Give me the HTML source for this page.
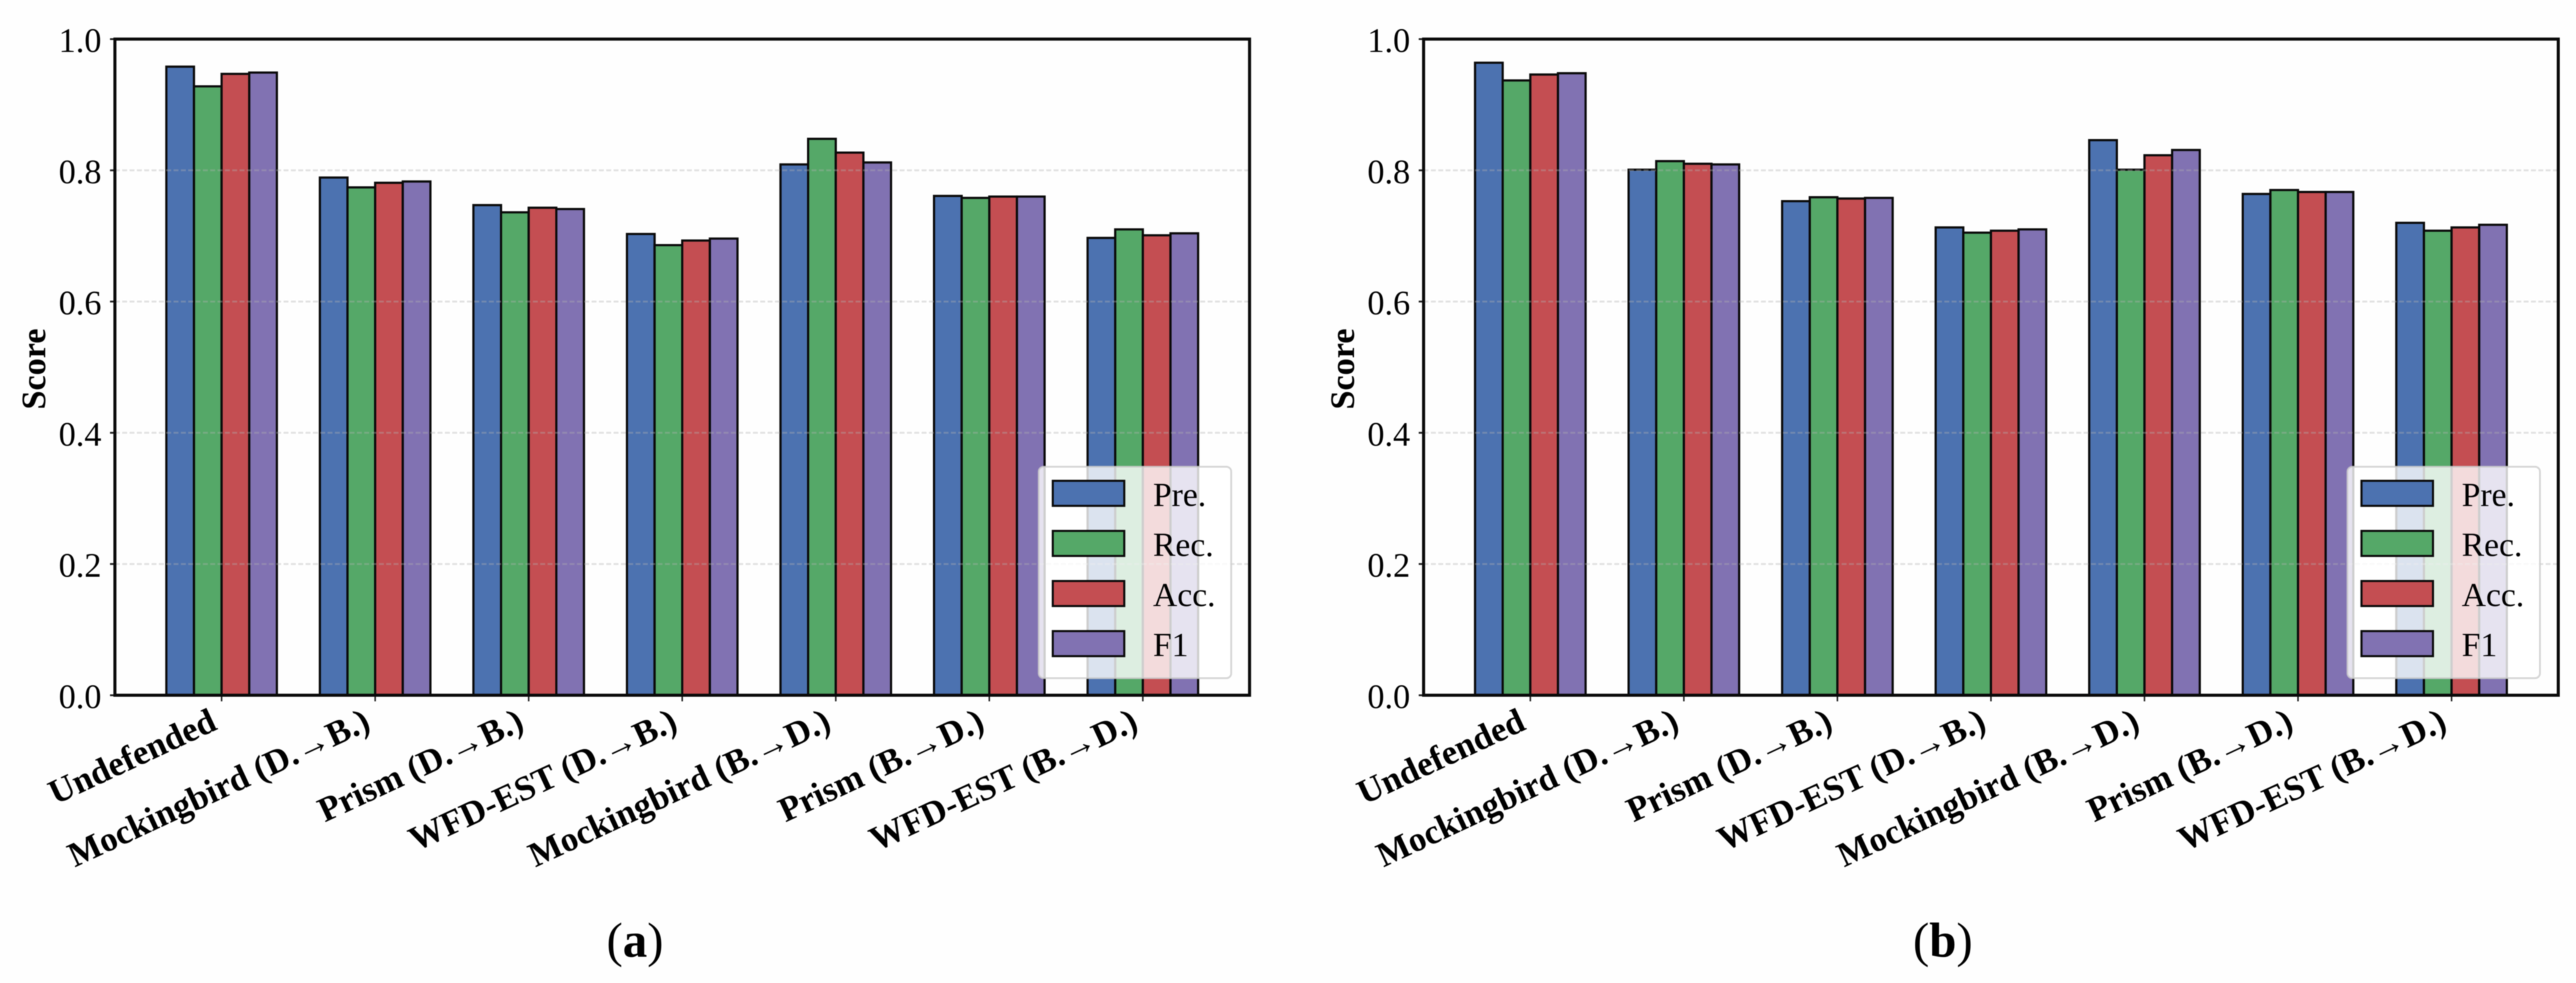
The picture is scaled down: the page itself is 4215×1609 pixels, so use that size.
<!DOCTYPE html>
<html lang="en">
<head>
<meta charset="utf-8">
<title>Score comparison charts</title>
<style>
html,body{margin:0;padding:0;background:#fff;width:4215px;height:1609px;overflow:hidden}
svg{display:block;filter:blur(0.7px)}
text{font-family:"Liberation Serif","Times New Roman",serif;fill:#000}
</style>
</head>
<body>
<svg id="figure" xmlns="http://www.w3.org/2000/svg" width="4215" height="1609" viewBox="0 0 4215 1609">
  <rect x="0" y="0" width="4215" height="1609" fill="#fefefe"></rect>
</svg>
<script>
const categories = ['Undefended', 'Mockingbird (D.\u2192B.)', 'Prism (D.\u2192B.)', 'WFD-EST (D.\u2192B.)', 'Mockingbird (B.\u2192D.)', 'Prism (B.\u2192D.)', 'WFD-EST (B.\u2192D.)'];
const seriesNames = ['Pre.', 'Rec.', 'Acc.', 'F1'];
const yTicks = [0, 0.2, 0.4, 0.6, 0.8, 1];
const yTickLabels = ['0.0', '0.2', '0.4', '0.6', '0.8', '1.0'];
const gridValues = [0.2, 0.4, 0.6, 0.8];

const panelAPre = [0.958, 0.789, 0.747, 0.703, 0.809, 0.761, 0.697];
const panelARec = [0.928, 0.774, 0.736, 0.686, 0.848, 0.758, 0.710];
const panelAAcc = [0.947, 0.781, 0.743, 0.693, 0.827, 0.760, 0.701];
const panelAF1 = [0.949, 0.783, 0.741, 0.696, 0.812, 0.760, 0.704];

const panelBPre = [0.964, 0.801, 0.753, 0.713, 0.846, 0.764, 0.720];
const panelBRec = [0.937, 0.814, 0.759, 0.705, 0.801, 0.770, 0.708];
const panelBAcc = [0.946, 0.810, 0.757, 0.708, 0.823, 0.767, 0.713];
const panelBF1 = [0.948, 0.809, 0.758, 0.710, 0.831, 0.767, 0.717];

const seriesColors = ['#4C72B0', '#55A868', '#C44E52', '#8172B2'];
const barWidth = 0.18;
const xMin = -0.695;
const xMax = 6.695;
const plotTop = 64;
const plotBottom = 1138;

const NS = 'http://www.w3.org/2000/svg';
const figure = document.getElementById('figure');

function make(parent, tag, attrs, content) {
  const node = document.createElementNS(NS, tag);
  for (const key in attrs) node.setAttribute(key, attrs[key]);
  if (content !== undefined) node.textContent = content;
  parent.appendChild(node);
  return node;
}

function slug(s) {
  return s.toLowerCase().replace(/\u2192/g, '-to-').replace(/[^a-z0-9]+/g, '-').replace(/^-|-$/g, '');
}

function drawPanel(id, left, right, series, captionLetter, captionX) {
  const xScale = v => left + (v - xMin) / (xMax - xMin) * (right - left);
  const yScale = v => plotBottom - v * (plotBottom - plotTop);

  const panel = make(figure, 'g', {});
  
  

  // bars
  series.forEach((values, s) => {
    values.forEach((value, c) => {
      const x0 = xScale(c + (s - 2) * barWidth);
      const x1 = xScale(c + (s - 1) * barWidth);
      const bar = make(panel, 'rect', {
        x: x0, y: yScale(value), width: x1 - x0, height: yScale(0) - yScale(value),
        fill: seriesColors[s], stroke: '#0a0a0a', 'stroke-width': 3.6
      });
      
      
    });
  });

  // grid lines
  gridValues.forEach(value => {
    const grid = make(panel, 'line', {
      x1: left, x2: right, y1: yScale(value), y2: yScale(value),
      stroke: '#b0b0b0', 'stroke-opacity': 0.38, 'stroke-width': 3, 'stroke-dasharray': '8 4'
    });
    
    
  });

  // y axis ticks and labels
  yTicks.forEach((value, i) => {
    const tick = make(panel, 'line', {
      x1: left - 8, x2: left, y1: yScale(value), y2: yScale(value), stroke: '#222', 'stroke-width': 3
    });
    
    
    const label = make(panel, 'text', {
      x: left - 22, y: yScale(value) + 21, 'text-anchor': 'end', 'font-size': 56
    }, yTickLabels[i]);
    
    
  });

  // x axis ticks and labels
  categories.forEach((name, c) => {
    const tx = xScale(c);
    const tick = make(panel, 'line', {
      x1: tx, x2: tx, y1: plotBottom, y2: plotBottom + 10, stroke: '#222', 'stroke-width': 2.5
    });
    
    
    const ax = tx - 5;
    const ay = 1193;
    const label = make(panel, 'text', {
      x: ax, y: ay, 'text-anchor': 'end', 'font-size': 57, 'font-weight': 'bold',
      transform: 'rotate(-25 ' + ax + ' ' + ay + ')'
    }, name);
    
    
  });

  // axis frame
  const frame = make(panel, 'rect', {
    x: left, y: plotTop, width: right - left, height: plotBottom - plotTop,
    fill: 'none', stroke: '#0a0a0a', 'stroke-width': 5
  });
  
  

  // y axis title
  const titleX = left - 114;
  const titleY = 604;
  const title = make(panel, 'text', {
    x: titleX, y: titleY, 'text-anchor': 'middle', 'font-size': 56, 'font-weight': 'bold',
    transform: 'rotate(-90 ' + titleX + ' ' + titleY + ')'
  }, 'Score');
  
  

  // legend
  const legendX = right - 345;
  const legend = make(panel, 'g', {});
  
  
  const legendBox = make(legend, 'rect', {
    x: legendX, y: 764, width: 315, height: 346, rx: 8, ry: 8,
    fill: '#fff', 'fill-opacity': 0.8, stroke: '#ccc', 'stroke-opacity': 0.8, 'stroke-width': 3
  });
  
  
  seriesNames.forEach((name, s) => {
    const sy = 787 + s * 82;
    const swatch = make(legend, 'rect', {
      x: legendX + 23, y: sy, width: 117, height: 41,
      fill: seriesColors[s], stroke: '#0a0a0a', 'stroke-width': 3.4
    });
    
    
    const text = make(legend, 'text', { x: legendX + 187, y: sy + 41, 'font-size': 55 }, name);
    
    
  });

  // caption
  const caption = make(panel, 'text', { x: captionX, y: 1566, 'text-anchor': 'middle', 'font-size': 80 });
  
  
  make(caption, 'tspan', {}, '(');
  make(caption, 'tspan', { 'font-weight': 'bold' }, captionLetter);
  make(caption, 'tspan', {}, ')');
}

drawPanel('a', 188, 2044.6, [panelAPre, panelARec, panelAAcc, panelAF1], 'a', 1039);
drawPanel('b', 2329.4, 4186, [panelBPre, panelBRec, panelBAcc, panelBF1], 'b', 3179);
</script>
</body>
</html>
